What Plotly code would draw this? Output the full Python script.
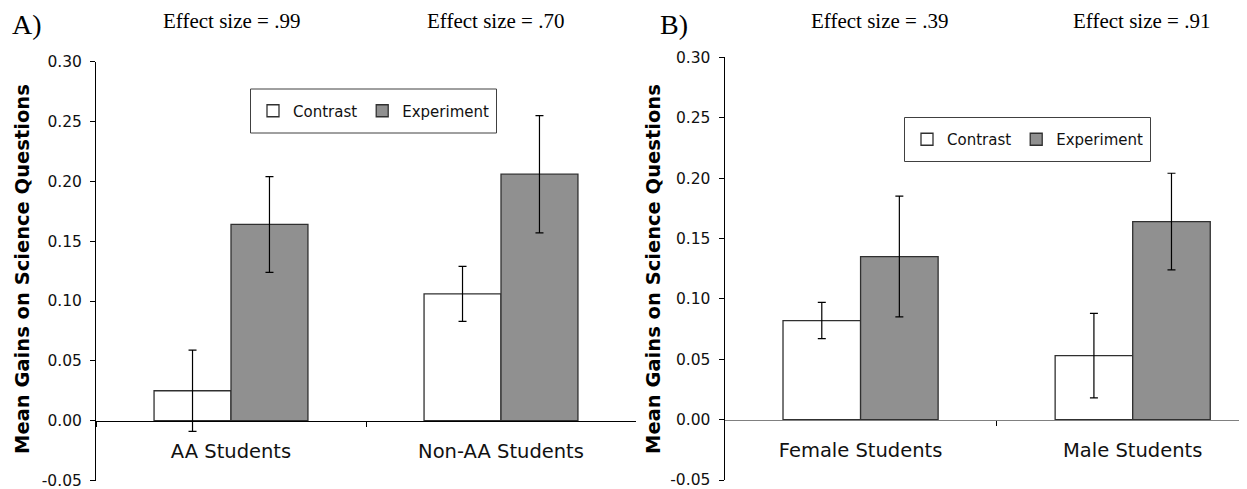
import plotly.graph_objects as go

# ---------------- data ----------------
groups_a = ["AA Students", "Non-AA Students"]
contrast_a = [0.025, 0.106]
contrast_a_err = [0.034, 0.023]
experiment_a = [0.164, 0.206]
experiment_a_err = [0.040, 0.049]
effect_a = ["Effect size = .99", "Effect size = .70"]

groups_b = ["Female Students", "Male Students"]
contrast_b = [0.082, 0.053]
contrast_b_err = [0.015, 0.035]
experiment_b = [0.135, 0.164]
experiment_b_err = [0.050, 0.040]
effect_b = ["Effect size = .39", "Effect size = .91"]

y_ticks = [-0.05, 0.00, 0.05, 0.10, 0.15, 0.20, 0.25, 0.30]
y_tick_labels = ["-0.05", "0.00", "0.05", "0.10", "0.15", "0.20", "0.25", "0.30"]

y_title = "Mean Gains on Science Questions"
series_names = ["Contrast", "Experiment"]

# ---------------- layout helpers ----------------
# the page body has an 8px margin, so the figure is drawn 8px in from the window corner
OFF = 8
WIN_W, WIN_H = 1247, 489
W, H = WIN_W - OFF, WIN_H - OFF


def px(x):
    return (x - OFF) / W


def py(y):
    return 1 - (y - OFF) / H


SANS = "DejaVu Sans, Verdana, sans-serif"
SERIF = "Liberation Serif, Times New Roman, serif"
C_FILL = "white"
E_FILL = "#909090"
OUTLINE = "#303030"

fig = go.Figure()


def add_panel(groups, c, ce, e, ee, xa, ya, legend):
    fig.add_trace(go.Bar(
        x=groups, y=c, name=series_names[0], xaxis=xa, yaxis=ya, legend=legend,
        marker=dict(color=C_FILL, line=dict(color=OUTLINE, width=1.3)),
        error_y=dict(type="data", array=ce, color="black", thickness=1.2, width=4),
    ))
    fig.add_trace(go.Bar(
        x=groups, y=e, name=series_names[1], xaxis=xa, yaxis=ya, legend=legend,
        marker=dict(color=E_FILL, line=dict(color=OUTLINE, width=1.3)),
        error_y=dict(type="data", array=ee, color="black", thickness=1.2, width=4),
    ))


add_panel(groups_a, contrast_a, contrast_a_err, experiment_a, experiment_a_err, "x", "y", "legend")
add_panel(groups_b, contrast_b, contrast_b_err, experiment_b, experiment_b_err, "x2", "y2", "legend2")

yr = [y_ticks[0], y_ticks[-1]]
ydom1 = [py(480.5), py(61.7)]
ydom2 = [py(480.0), py(57.3)]


def zero_pos(dom):
    return dom[0] + (0 - yr[0]) / (yr[1] - yr[0]) * (dom[1] - dom[0])


yaxis_common = dict(
    range=yr, tickmode="array", tickvals=y_ticks, ticktext=y_tick_labels,
    showgrid=False, zeroline=False,
    showline=True, linecolor="black", linewidth=1, ticks="outside", ticklen=5,
    tickcolor="black", tickfont=dict(family=SANS, size=15.5, color="#111"),
    ticklabelstandoff=5, automargin=False, ticklabeloverflow="allow",
)
xaxis_common = dict(
    type="category", tickson="boundaries", ticks="outside", ticklen=5, tickcolor="black",
    showline=True, linewidth=1, showgrid=False, anchor="free", automargin=False,
    tickfont=dict(family=SANS, size=19.5, color="#111"), ticklabelstandoff=13,
    ticklabeloverflow="allow",
)

# legend box centres (window px) and box size
leg_boxes = [(373.5, 111.0), (1027.5, 139.5)]
LEG_W, LEG_H = 246, 44

fig.update_layout(
    width=W, height=H, margin=dict(l=0, r=0, t=0, b=0, autoexpand=False),
    paper_bgcolor="white", plot_bgcolor="rgba(0,0,0,0)",
    barmode="group", bargap=0.43, bargroupgap=0,
    xaxis=dict(domain=[px(96), px(636)], range=[-0.5, 1.5], position=zero_pos(ydom1),
               linecolor="black", **xaxis_common),
    yaxis=dict(domain=ydom1, anchor="x", **yaxis_common),
    xaxis2=dict(domain=[px(724.5), 1.0], range=[-0.5, 1.42], position=zero_pos(ydom2),
                linecolor="#808080", **xaxis_common),
    yaxis2=dict(domain=ydom2, anchor="x2", **yaxis_common),
    legend=dict(orientation="h", x=px(leg_boxes[0][0]), y=py(leg_boxes[0][1]),
                xanchor="center", yanchor="middle", borderwidth=0, bgcolor="rgba(0,0,0,0)",
                font=dict(family=SANS, size=15, color="#111")),
    legend2=dict(orientation="h", x=px(leg_boxes[1][0]), y=py(leg_boxes[1][1]),
                 xanchor="center", yanchor="middle", borderwidth=0, bgcolor="rgba(0,0,0,0)",
                 font=dict(family=SANS, size=15, color="#111")),
    showlegend=True,
)

shapes = []
for cx, cy in leg_boxes:
    shapes.append(dict(type="rect", xref="paper", yref="paper",
                       x0=px(cx - LEG_W / 2), x1=px(cx + LEG_W / 2),
                       y0=py(cy + LEG_H / 2), y1=py(cy - LEG_H / 2),
                       line=dict(color="#404040", width=1), fillcolor="white", layer="below"))
fig.update_layout(shapes=shapes)

annotations = []


def note(text, x, y, font, **kw):
    annotations.append(dict(text=text, x=px(x), y=py(y), xref="paper", yref="paper",
                            xanchor="center", yanchor="middle", showarrow=False,
                            font=font, **kw))


# panel letters
note("A)", 27, 24, dict(family=SERIF, size=28, color="black"))
note("B)", 674, 24, dict(family=SERIF, size=28, color="black"))
# effect sizes
for txt, xp in zip(effect_a + effect_b, [231, 495, 879, 1141]):
    note(txt, xp, 21, dict(family=SERIF, size=21, color="black"))
# y-axis titles
for xp in [22, 653]:
    note("<b>" + y_title + "</b>", xp, 269, dict(family=SANS, size=19.5, color="black"),
         textangle=-90)
fig.update_layout(annotations=annotations)

fig.write_html("out.html")
